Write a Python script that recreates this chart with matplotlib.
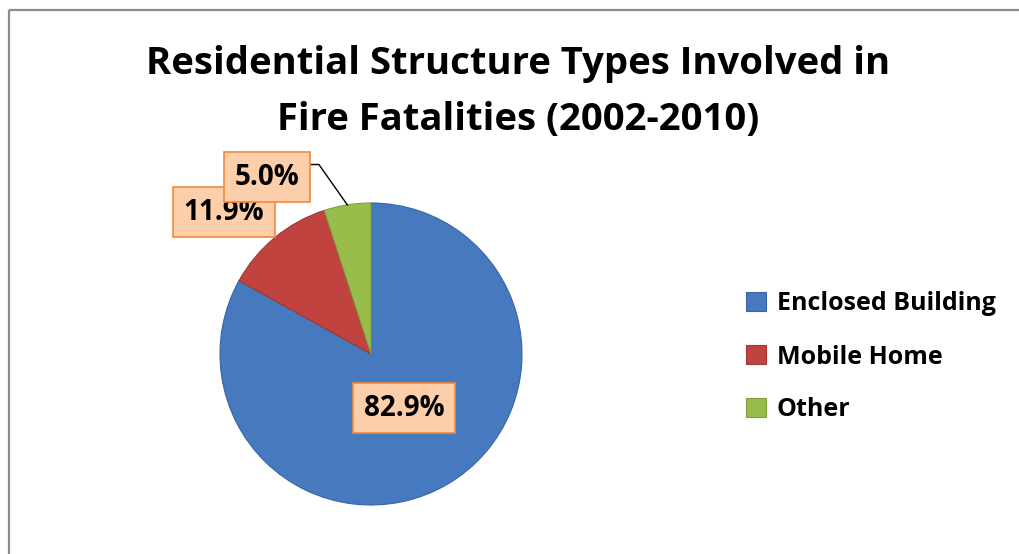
import matplotlib
matplotlib.use('Agg')
import numpy as np
import matplotlib.pyplot as plt
from matplotlib.lines import Line2D

plt.rcParams['font.family'] = ['Open Sans', 'DejaVu Sans']

# data
categories = ['Enclosed Building', 'Mobile Home', 'Other']
shares = [82.9, 11.9, 5.0]
pct_labels = ['82.9%', '11.9%', '5.0%']
colors = ['#4679be', '#c0433f', '#98bd4a']
edge_colors = ['#3a66a3', '#a33633', '#7f9e3b']

W, H = 1020, 554
fig = plt.figure(figsize=(W / 100, H / 100), dpi=100)

# grey chart-area frame (right and bottom edges run off the picture)
fy = 1 - 9.5 / H
fx = 9.5 / W
fig.add_artist(Line2D([fx, 1.05], [fy, fy], transform=fig.transFigure, color='#8c8c8c',
                      linewidth=1.6, solid_capstyle='butt'))
fig.add_artist(Line2D([fx, fx], [-0.05, fy], transform=fig.transFigure, color='#8c8c8c',
                      linewidth=1.6, solid_capstyle='butt'))

fig.text(518 / W, 1 - 92 / H, 'Residential Structure Types Involved in\nFire Fatalities (2002-2010)',
         ha='center', va='center', fontsize=27.5, fontweight='bold', linespacing=1.6)

cx, cy, r = 371, 354, 151
ax = fig.add_axes([(cx - r) / W, (H - cy - r) / H, 2 * r / W, 2 * r / H])
wedges, _ = ax.pie(shares, colors=colors, startangle=90, counterclock=False,
                   wedgeprops=dict(linewidth=0.8))
for w, ec in zip(wedges, edge_colors):
    w.set_edgecolor(ec)
ax.set_xlim(-1, 1)
ax.set_ylim(-1, 1)
ax.set_aspect('equal')
ax.axis('off')

box = dict(boxstyle='square,pad=0.38', facecolor='#fcceaa', edgecolor='#f08a3c', linewidth=1.2)
# label positions as placed in the original chart (axes data units)
label_pos = [(0.22, -0.36), (-0.975, 0.94), (-0.69, 1.17)]
for i, (lbl, (lx, ly)) in enumerate(zip(pct_labels, label_pos)):
    ax.text(lx, ly, lbl, ha='center', va='center', fontsize=20, fontweight='bold',
            bbox=box, zorder=5 + i, clip_on=False)

# leader line for the small 'Other' slice
w = wedges[2]
mid = np.deg2rad((w.theta1 + w.theta2) / 2)
ax.plot([-0.41, -0.345, np.cos(mid)], [1.255, 1.255, np.sin(mid)], color='black',
        linewidth=1, clip_on=False, zorder=4)

fig.legend(wedges, categories, loc='center left', bbox_to_anchor=(723 / W, 1 - 357 / H),
           frameon=False, handlelength=0.8, handleheight=0.8,
           handletextpad=0.45, labelspacing=1.12, prop={'weight': 'bold', 'size': 18})

fig.savefig('out.png', dpi=100)
